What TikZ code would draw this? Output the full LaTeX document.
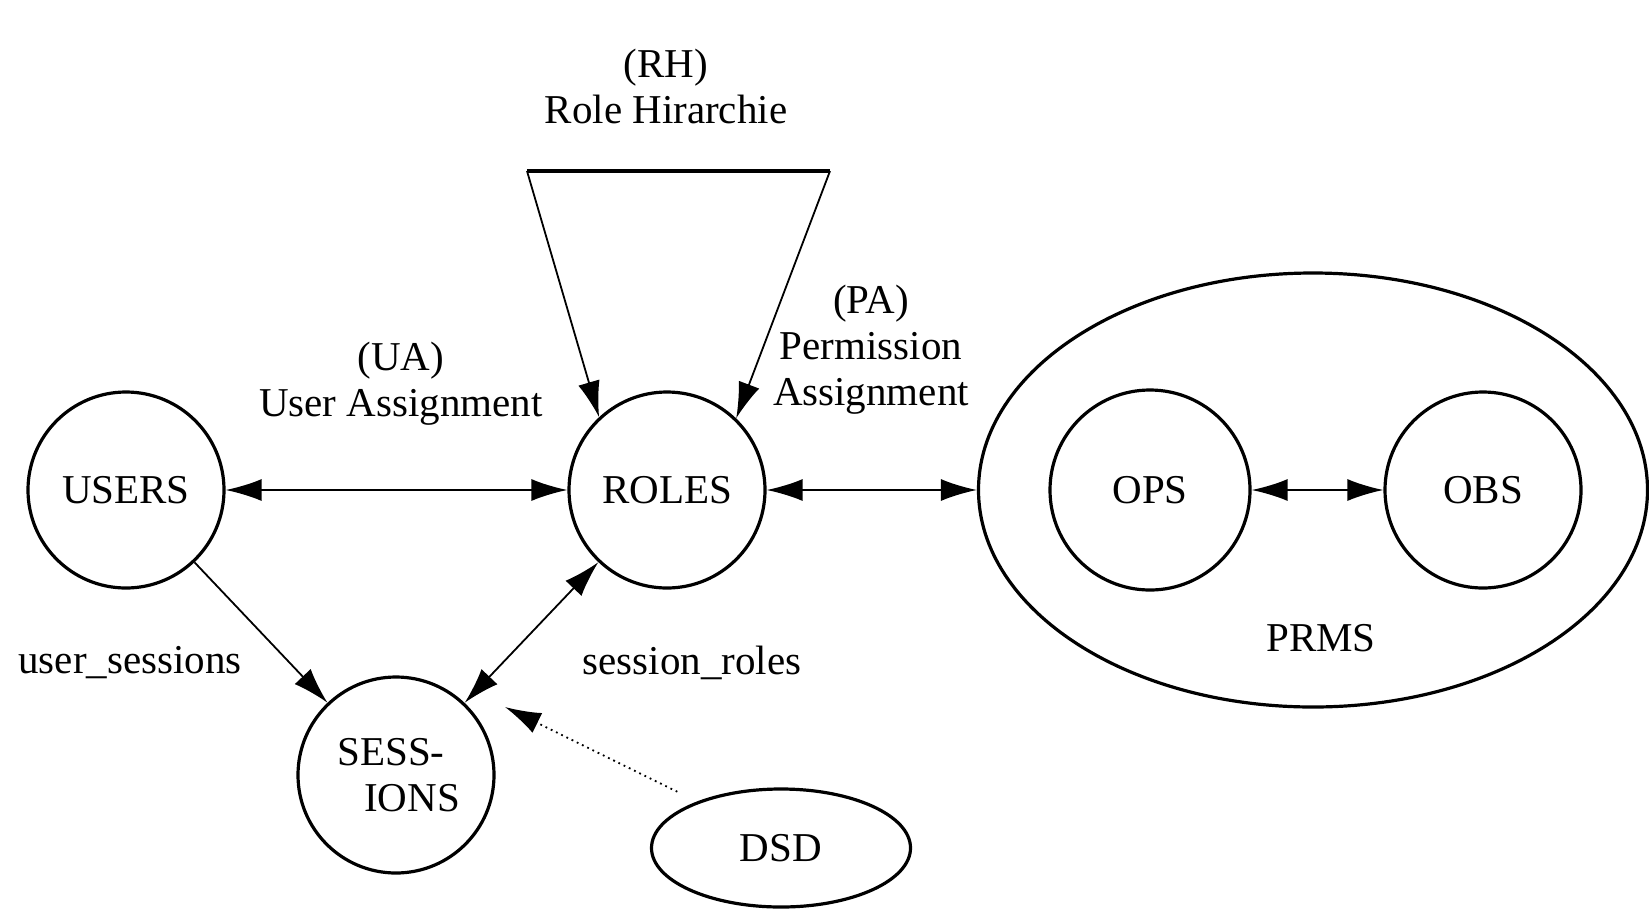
\documentclass[tikz,border=0pt]{standalone}
\usepackage{fontspec}
\setmainfont{Liberation Serif}
\usetikzlibrary{automata, positioning, arrows.meta, shapes.geometric}
\tikzset{
    >={Latex[length=18pt, width=11pt]}, % big filled heads
    every state/.style={line width=1.6pt, minimum size=98pt, inner sep=0pt}, % the round sets
    set/.style={draw, ellipse, line width=1.6pt, inner sep=0pt}, % the oval sets
    link/.style={line width=0.9pt}, % thin connectors
}

\begin{document}
\begin{tikzpicture}[x=0.5pt, y=-0.5pt, every node/.style={font=\fontsize{20.5}{23}\selectfont}]
        \useasboundingbox (0,0) rectangle (1649,911);

        % States definitions here
        \node[state] (USERS) at (126,490) {USERS};
        \node[state, right of=USERS, node distance=270.5pt] (ROLES) {ROLES};
        \node[state, align=center] (SESSIONS) at (396,775) {SESS-\hspace*{5pt}\\\hspace*{16pt}IONS};
        \node[set, minimum width=334.5pt, minimum height=217pt] (PRMS) at (1313,490) {};
        \node[state, minimum size=100pt] (OPS) at (1150,490) {OPS};
        \node[state, right of=OPS, node distance=166.5pt] (OBS) {OBS};
        \node[set, minimum width=129.5pt, minimum height=59pt] (DSD) at (781,848) {DSD};

        % labels
        \node[align=center] (RH) at (666,86) {(RH)\\Role Hirarchie};
        \node[align=center] (UA) at (401,384) {(UA)\\User Assignment};
        \node[align=center] (PA) at (871,350) {(PA)\\Permission\\Assignment};
        \node (PRMSlabel) at (1321,638) {PRMS};
        \node (USsessions) at (130,663) {user\_sessions};
        \node (SRroles) at (692,663) {session\_roles};

        % free ends
        \coordinate (rhL) at (527,171);
        \coordinate (rhR) at (830,171);
        \coordinate (dsdTip) at (505,707);

        % draw Edges
        \draw[line width=1.6pt] (rhL) -- (rhR);
        \draw[link, ->] (rhL) -- (ROLES.133);
        \draw[link, ->] (rhR) -- (ROLES.46);
        \draw[link, <->] (USERS) -- (ROLES);
        \draw[link, <->] (ROLES) -- (PRMS);
        \draw[link, <->] (OPS) -- (OBS);
        \draw[link, ->] (USERS) -- (SESSIONS);
        \draw[link, <->] (SESSIONS) -- (ROLES);
        \draw[link, ->, dotted, shorten <=11pt] (DSD.151) -- (dsdTip);
\end{tikzpicture}
\end{document}
